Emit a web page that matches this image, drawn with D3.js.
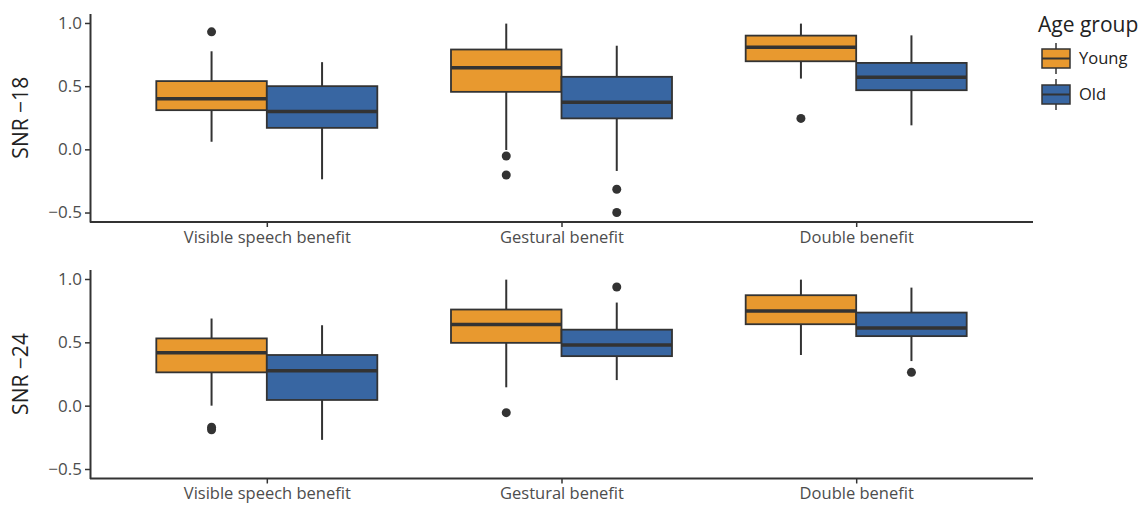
<!DOCTYPE html>
<html>
<head>
<meta charset="utf-8">
<script src="https://cdn.jsdelivr.net/npm/d3@7"></script>
<style>
  body { margin: 0; background: #fff; }
  svg { display: block; font-family: "Open Sans", sans-serif; }
</style>
</head>
<body>
<svg id="chart" width="1141" height="505"></svg>
<script>
// ---- data ----
const categories = ["Visible speech benefit", "Gestural benefit", "Double benefit"];
const groups = ["Young", "Old"];
const panels = ["SNR \u221218", "SNR \u221224"];
const yTicks = [-0.5, 0.0, 0.5, 1.0];

// [whiskerLow, q1, median, q3, whiskerHigh] per category
const snr18Young = [[0.06, 0.31, 0.40, 0.54, 0.776], [-0.005, 0.455, 0.645, 0.79, 0.995], [0.56, 0.697, 0.807, 0.90, 0.995]];
const snr18Old   = [[-0.237, 0.17, 0.30, 0.50, 0.69], [-0.171, 0.245, 0.373, 0.574, 0.82], [0.19, 0.468, 0.571, 0.684, 0.902]];
const snr24Young = [[0.0, 0.263, 0.417, 0.531, 0.688], [0.145, 0.496, 0.641, 0.759, 0.995], [0.40, 0.643, 0.748, 0.872, 0.995]];
const snr24Old   = [[-0.27, 0.045, 0.276, 0.40, 0.635], [0.202, 0.391, 0.478, 0.60, 0.814], [0.352, 0.549, 0.614, 0.735, 0.932]];

// outliers per category
const snr18YoungOut = [[0.93], [-0.053, -0.203], [0.245]];
const snr18OldOut   = [[], [-0.316, -0.50], []];
const snr24YoungOut = [[-0.17, -0.19], [-0.055], []];
const snr24OldOut   = [[], [0.937], [0.263]];

const colors = { Young: "#E8992F", Old: "#3866A2" };

// ---- layout ----
const svg = d3.select("#chart");
const ink = "#333333";
const xLeft = 90, xRight = 1033;
const panelRanges = [[222, 13.5], [478.5, 269.5]];
const panelData = [
  { stats: { Young: snr18Young, Old: snr18Old }, outs: { Young: snr18YoungOut, Old: snr18OldOut } },
  { stats: { Young: snr24Young, Old: snr24Old }, outs: { Young: snr24YoungOut, Old: snr24OldOut } }
];

// ggplot-like discrete expansion: positions at 0.6, 1.6, 2.6 of 3.2 units
const xc = d3.scalePoint().domain(categories).range([xLeft + (xRight - xLeft) * 0.6 / 3.2, xRight - (xRight - xLeft) * 0.6 / 3.2]);
const unit = (xRight - xLeft) / 3.2;
const dodge = d3.scaleBand().domain(groups).range([-0.375 * unit, 0.375 * unit]);

panels.forEach((title, pi) => {
  const y = d3.scaleLinear().domain([-0.575, 1.075]).range(panelRanges[pi]);
  const g = svg.append("g");
  const pd = panelData[pi];

  categories.forEach((cat, ci) => {
    groups.forEach(grp => {
      const s = pd.stats[grp][ci];
      const x0 = xc(cat) + dodge(grp);
      const w = dodge.bandwidth();
      const cx = x0 + w / 2;
      g.append("line").attr("x1", cx).attr("x2", cx).attr("y1", y(s[4])).attr("y2", y(s[3]))
        .attr("stroke", ink).attr("stroke-width", 2);
      g.append("line").attr("x1", cx).attr("x2", cx).attr("y1", y(s[1])).attr("y2", y(s[0]))
        .attr("stroke", ink).attr("stroke-width", 2);
      g.append("rect").attr("x", x0).attr("y", y(s[3])).attr("width", w).attr("height", y(s[1]) - y(s[3]))
        .attr("fill", colors[grp]).attr("stroke", ink).attr("stroke-width", 1.8);
      g.append("line").attr("x1", x0).attr("x2", x0 + w).attr("y1", y(s[2])).attr("y2", y(s[2]))
        .attr("stroke", ink).attr("stroke-width", 3.5);
      pd.outs[grp][ci].forEach(v => {
        g.append("circle").attr("cx", cx).attr("cy", y(v)).attr("r", 4.5).attr("fill", ink);
      });
    });
  });

  // y axis
  const yAxis = d3.axisLeft(y).tickValues(yTicks).tickSize(5).tickSizeOuter(0);
  const ya = g.append("g").attr("transform", `translate(${xLeft},0)`).call(yAxis);
  ya.select(".domain").attr("stroke", ink).attr("stroke-width", 2);
  ya.selectAll(".tick line").attr("stroke", ink).attr("stroke-width", 1.5);
  ya.selectAll(".tick text").attr("fill", "#4d4d4d").attr("font-size", 17).attr("x", -8)
    .attr("font-family", "Open Sans").text(d => d < 0 ? "\u2212" + Math.abs(d).toFixed(1) : d.toFixed(1));

  // x axis
  const xAxis = d3.axisBottom(xc).tickSize(5).tickSizeOuter(0);
  const xa = g.append("g").attr("transform", `translate(0,${panelRanges[pi][0]})`).call(xAxis);
  xa.select(".domain").attr("stroke", ink).attr("stroke-width", 2).attr("d", `M${xLeft},0H${xRight}`);
  xa.selectAll(".tick line").attr("stroke", ink).attr("stroke-width", 1.5);
  xa.selectAll(".tick text").attr("fill", "#4d4d4d").attr("font-size", 16.5).attr("y", 9)
    .attr("font-family", "Open Sans");

  // y title
  const yc = (panelRanges[pi][0] + panelRanges[pi][1]) / 2;
  g.append("text").attr("transform", `translate(28,${yc}) rotate(-90)`).attr("text-anchor", "middle")
    .attr("font-size", 21).attr("fill", "#222").text(title);
});

// legend
const leg = svg.append("g");
leg.append("text").attr("x", 1038).attr("y", 32).attr("font-size", 21).attr("fill", "#222").text("Age group");
groups.forEach((grp, i) => {
  const top = 49 + i * 36;
  const kx = 1042, kw = 28, kh = 19;
  leg.append("line").attr("x1", kx + kw / 2).attr("x2", kx + kw / 2).attr("y1", top - 6).attr("y2", top + kh + 6)
    .attr("stroke", ink).attr("stroke-width", 1.5);
  leg.append("rect").attr("x", kx).attr("y", top).attr("width", kw).attr("height", kh)
    .attr("fill", colors[grp]).attr("stroke", ink).attr("stroke-width", 1.5);
  leg.append("line").attr("x1", kx).attr("x2", kx + kw).attr("y1", top + kh / 2).attr("y2", top + kh / 2)
    .attr("stroke", ink).attr("stroke-width", 2);
  leg.append("text").attr("x", 1079).attr("y", top + kh / 2).attr("dy", "0.35em")
    .attr("font-size", 16.5).attr("fill", "#222").text(grp);
});
</script>
</body>
</html>
